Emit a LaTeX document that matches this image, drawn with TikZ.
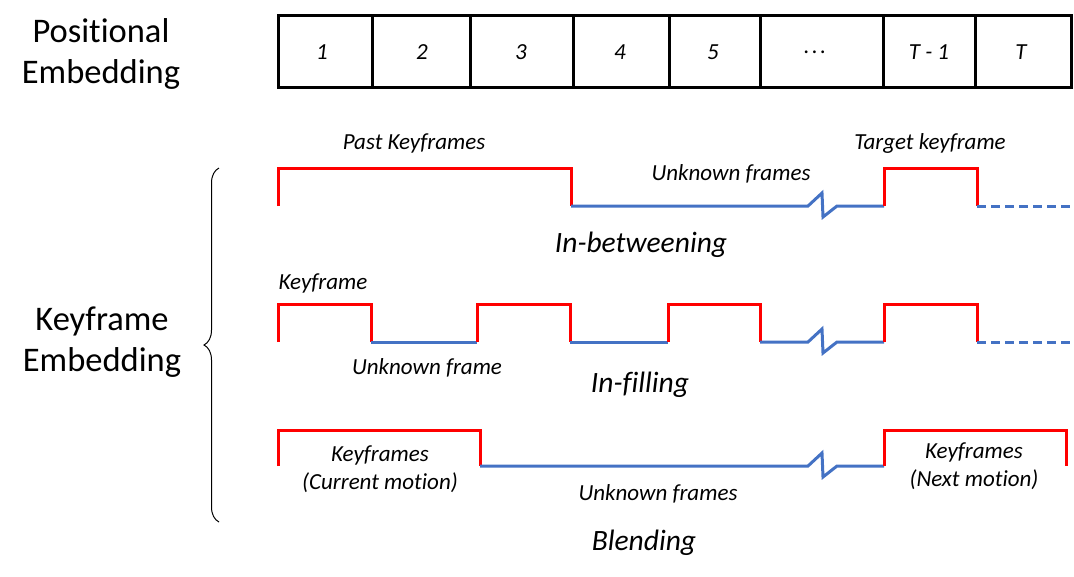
\documentclass[tikz,border=0pt]{standalone}
\usepackage{fontspec}
\setmainfont[Ligatures={NoCommon}]{Carlito}
\usetikzlibrary{decorations.pathreplacing}
\definecolor{keyred}{RGB}{255,0,0}
\definecolor{unkblue}{RGB}{68,114,196}
\newcommand{\celldots}{.\hspace{2.5pt}.\hspace{2.5pt}.}
\tikzset{
  cell/.style={line width=3pt,black},
  key/.style={line width=3pt,keyred},
  unknown/.style={line width=3pt,unkblue},
  lbl/.style={font=\fontsize{23}{28}\selectfont\itshape,align=center},
  mode/.style={font=\fontsize{29.5}{34}\selectfont\itshape},
  side/.style={font=\fontsize{34.5}{41}\selectfont,align=center}
}
\begin{document}
\begin{tikzpicture}[x=1pt,y=-1pt]
    \useasboundingbox (0,0) rectangle (1074,576);
    % positional embedding
    \node[side] (pos) at (101,54) {Positional\\Embedding};
    \draw[cell] (278,15) rectangle (1071,87);
    \foreach \x in {372,470,573,669,760,883,975}
    \draw[cell] (\x,15) -- (\x,87);
    \foreach \x/\t [count=\i] in {322/1,422/2,521/3,620/4,713/5,815/\celldots,929/T - 1,1021/T}
    \node[lbl] (n\i) at (\x,52) {\t};
    % keyframe embedding
    \node[side] (key) at (102,342) {Keyframe\\Embedding};
    \draw[line width=1pt,decorate,decoration={brace,amplitude=15pt,aspect=0.5}] (219,522) -- (219,168);
    % in-betweening
    \draw[key] (278,206) -- (278,168) -- (571,168) -- (571,206);
    \draw[unknown] (571,206) -- (808,206) -- (822,193) -- (823,217) -- (837,206) -- (884,206);
    \draw[key] (884,206) -- (884,168) -- (977,168) -- (977,206);
    \draw[unknown,dashed,dash pattern=on 9pt off 5pt] (977,206) -- (1074,206);
    \node[lbl] (past) at (414,143) {Past Keyframes};
    \node[lbl] (target) at (930,143) {Target keyframe};
    \node[lbl] (unk1) at (731,174) {Unknown frames};
    \node[mode] (inb) at (641,245) {In-betweening};
    % in-filling
    \draw[key] (278,342) -- (278,304) -- (371,304) -- (371,342);
    \draw[unknown] (371,342) -- (477,342);
    \draw[key] (477,342) -- (477,304) -- (570,304) -- (570,342);
    \draw[unknown] (570,342) -- (668,342);
    \draw[key] (668,342) -- (668,304) -- (760,304) -- (760,342);
    \draw[unknown] (760,342) -- (808,342) -- (822,329) -- (823,353) -- (837,342) -- (884,342);
    \draw[key] (884,342) -- (884,304) -- (977,304) -- (977,342);
    \draw[unknown,dashed,dash pattern=on 9pt off 5pt] (977,342) -- (1074,342);
    \node[lbl] (kf) at (323,283) {Keyframe};
    \node[lbl] (unk2) at (427,368) {Unknown frame};
    \node[mode] (inf) at (640,385) {In-filling};
    % blending
    \draw[key] (278,466) -- (278,430) -- (480,430) -- (480,466);
    \draw[unknown] (480,466) -- (808,466) -- (822,453) -- (823,477) -- (837,466) -- (884,466);
    \draw[key] (884,466) -- (884,430) -- (1066,430) -- (1066,466);
    \node[lbl] (cur) at (380,469) {Keyframes\\(Current motion)};
    \node[lbl] (next) at (974,466) {Keyframes\\(Next motion)};
    \node[lbl] (unk3) at (658,494) {Unknown frames};
    \node[mode] (bl) at (644,543) {Blending};
\end{tikzpicture}
\end{document}
